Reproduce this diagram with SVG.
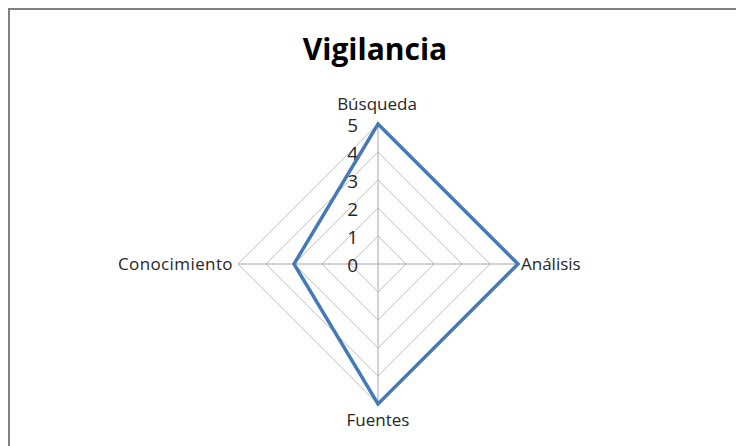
<svg xmlns="http://www.w3.org/2000/svg" width="736" height="446" viewBox="0 0 736 446">
<style>
.grid{fill:none;stroke:#c0c0c0;stroke-width:1}
.axis{stroke:#a6a6a6;stroke-width:1}
.lbl{font-family:"Open Sans","Liberation Sans",sans-serif;font-size:17px;fill:#262626}
.tick{font-family:"Open Sans","Liberation Sans",sans-serif;font-size:19px;fill:#262626;text-anchor:end}
.series{fill:none;stroke:#4579b8;stroke-width:3.5;stroke-linejoin:miter}
</style>
<rect x="0" y="0" width="736" height="446" fill="#ffffff"/>
<path d="M9,446 V9 H736" fill="none" stroke="#808080" stroke-width="2"/>
<text x="375" y="60" text-anchor="middle" font-family="'Open Sans','Liberation Sans',sans-serif" font-weight="bold" font-size="30" fill="#000">Vigilancia</text>
<g id="grid">
<polygon class="grid" points="378,236 406,264 378,292 350,264"/>
<polygon class="grid" points="378,208 434,264 378,320 322,264"/>
<polygon class="grid" points="378,180 462,264 378,348 294,264"/>
<polygon class="grid" points="378,152 490,264 378,376 266,264"/>
<polygon class="grid" points="378,124 518,264 378,404 238,264"/>
<line class="axis" x1="378" y1="124" x2="378" y2="404"/>
<line class="axis" x1="238" y1="264" x2="518" y2="264"/>
</g>
<g id="ticks">
<text class="tick" x="358" y="132">5</text>
<text class="tick" x="358" y="160">4</text>
<text class="tick" x="358" y="188">3</text>
<text class="tick" x="358" y="216">2</text>
<text class="tick" x="358" y="244">1</text>
<text class="tick" x="358" y="272">0</text>
</g>
<g id="connectors">
<polygon class="series" points="378,124 518,264 378,404 294,264"/>
</g>
<g id="busqueda"><text class="lbl" x="377" y="110" text-anchor="middle">Búsqueda</text></g>
<g id="analisis"><text class="lbl" x="521" y="270">Análisis</text></g>
<g id="fuentes"><text class="lbl" x="378" y="426" text-anchor="middle">Fuentes</text></g>
<g id="conocimiento"><text class="lbl" x="233" y="270" text-anchor="end" letter-spacing="0.4">Conocimiento</text></g>
</svg>
